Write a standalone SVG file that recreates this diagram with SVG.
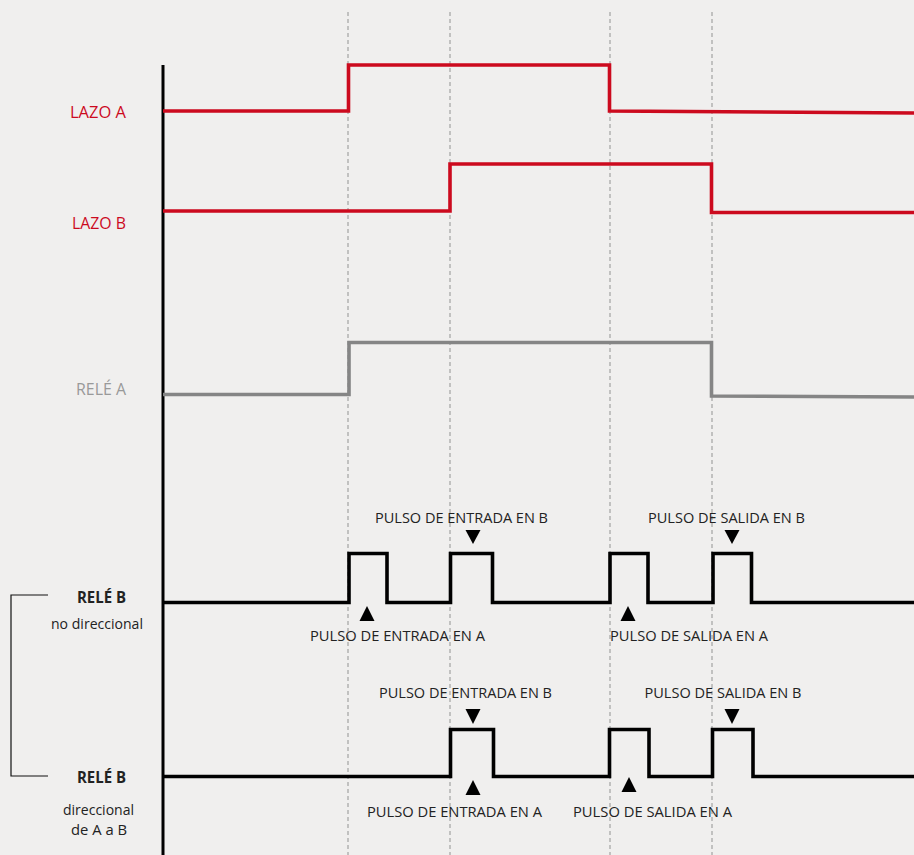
<svg xmlns="http://www.w3.org/2000/svg" width="914" height="855" viewBox="0 0 914 855">
<style>
.bg{fill:#f0efee}
.grid{stroke:#a8a8a8;stroke-width:1.3;stroke-dasharray:4 3;fill:none}
.axis{stroke:#000;stroke-width:3;fill:none}
.sigR{stroke:#cc0a1e;stroke-width:3.6;fill:none;stroke-linejoin:miter}
.sigG{stroke:#858585;stroke-width:3.6;fill:none;stroke-linejoin:miter}
.sigK{stroke:#000;stroke-width:3.6;fill:none;stroke-linejoin:miter}
.brk{stroke:#111;stroke-width:1.2;fill:none}
.tri{fill:#000}
text{font-family:"Open Sans","Noto Sans",sans-serif;font-size:14.5px;text-anchor:middle;dominant-baseline:central}
.big{font-size:16px}
.sm{font-size:14px}
.red{fill:#cc0a1e}
.gray{fill:#999}
.blk{fill:#222}
.bold{font-weight:bold}
</style>
<rect class="bg" x="0" y="0" width="914" height="855"/>
<g id="grid">
<line class="grid" x1="348" y1="12" x2="348" y2="855"/>
<line class="grid" x1="450" y1="12" x2="450" y2="855"/>
<line class="grid" x1="610" y1="12" x2="610" y2="855"/>
<line class="grid" x1="712" y1="12" x2="712" y2="855"/>
</g>
<g id="axis">
<line class="axis" x1="163" y1="65" x2="163" y2="855"/>
</g>
<g id="lazo-a">
<polyline class="sigR" points="163,111 348.5,111 348.5,65 609.5,65 609.5,111 914,113"/>
<text class="red big" x="98" y="112" textLength="56" lengthAdjust="spacingAndGlyphs">LAZO A</text>
</g>
<g id="lazo-b">
<polyline class="sigR" points="163,211 450,211 450,164 711.5,164 711.5,212.5 914,212.5"/>
<text class="red big" x="99" y="223" textLength="54" lengthAdjust="spacingAndGlyphs">LAZO B</text>
</g>
<g id="rele-a">
<polyline class="sigG" points="163,394.5 349,394.5 349,342.5 711.5,342.5 711.5,396 914,397"/>
<text class="gray big" x="101" y="389" textLength="50" lengthAdjust="spacingAndGlyphs">RELÉ A</text>
</g>
<g id="rele-b-nodir">
<polyline class="sigK" points="163,602.5 349,602.5 349,553.5 387,553.5 387,602.5 450.5,602.5 450.5,553.5 492.5,553.5 492.5,602.5 610,602.5 610,553.5 648,553.5 648,602.5 713,602.5 713,553.5 751.5,553.5 751.5,602.5 914,602.5"/>
<text class="blk bold big" x="101.5" y="597" textLength="49" lengthAdjust="spacingAndGlyphs">RELÉ B</text>
<text class="blk sm" x="97" y="623" textLength="92" lengthAdjust="spacingAndGlyphs">no direccional</text>
<polygon class="tri" points="465.5,530 480.5,530 473,544"/>
<polygon class="tri" points="724.5,530 739.5,530 732,544"/>
<polygon class="tri" points="359.5,621 374.5,621 367,606"/>
<polygon class="tri" points="620.5,621 635.5,621 628,606"/>
<text class="blk" x="461.5" y="517" textLength="173" lengthAdjust="spacingAndGlyphs">PULSO DE ENTRADA EN B</text>
<text class="blk" x="726.5" y="517" textLength="157" lengthAdjust="spacingAndGlyphs">PULSO DE SALIDA EN B</text>
<text class="blk" x="397.5" y="635" textLength="175" lengthAdjust="spacingAndGlyphs">PULSO DE ENTRADA EN A</text>
<text class="blk" x="689" y="635" textLength="158" lengthAdjust="spacingAndGlyphs">PULSO DE SALIDA EN A</text>
</g>
<g id="rele-b-dir">
<polyline class="sigK" points="163,776.5 450.5,776.5 450.5,729.5 493.5,729.5 493.5,776.5 609.5,776.5 609.5,729.5 649,729.5 649,776.5 712.5,776.5 712.5,729.5 753,729.5 753,776.5 914,776.5"/>
<text class="blk bold big" x="101.5" y="777" textLength="49" lengthAdjust="spacingAndGlyphs">RELÉ B</text>
<text class="blk sm" x="98.5" y="809" textLength="71" lengthAdjust="spacingAndGlyphs">direccional</text>
<text class="blk sm" x="99" y="829" textLength="56" lengthAdjust="spacingAndGlyphs">de A a B</text>
<polygon class="tri" points="465.5,709 480.5,709 473,724"/>
<polygon class="tri" points="724.5,709 739.5,709 732,724"/>
<polygon class="tri" points="465.5,795 480.5,795 473,780"/>
<polygon class="tri" points="621.5,792 636.5,792 629,777"/>
<text class="blk" x="465.5" y="692" textLength="173" lengthAdjust="spacingAndGlyphs">PULSO DE ENTRADA EN B</text>
<text class="blk" x="723" y="692" textLength="157" lengthAdjust="spacingAndGlyphs">PULSO DE SALIDA EN B</text>
<text class="blk" x="454.5" y="811" textLength="175" lengthAdjust="spacingAndGlyphs">PULSO DE ENTRADA EN A</text>
<text class="blk" x="652.5" y="811" textLength="159" lengthAdjust="spacingAndGlyphs">PULSO DE SALIDA EN A</text>
</g>
<g id="bracket">
<polyline class="brk" points="48,595 11,595 11,776 48,776"/>
</g>
</svg>
